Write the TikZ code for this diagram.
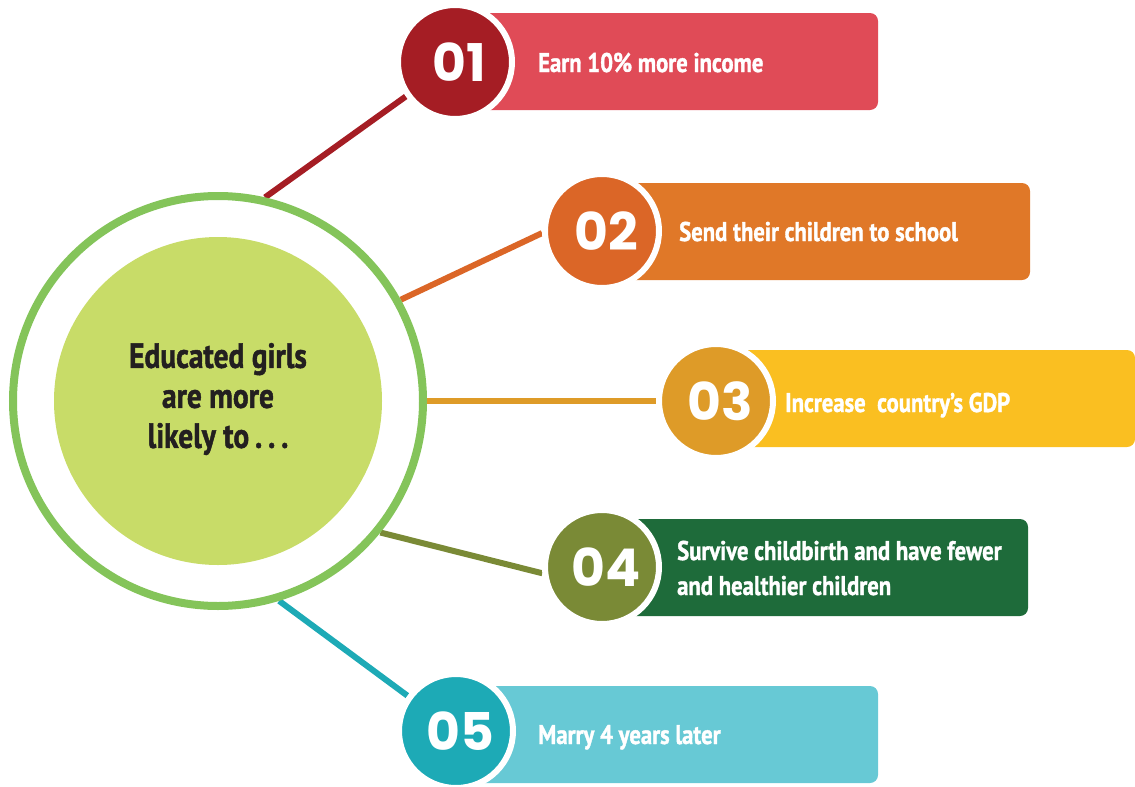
\documentclass[tikz,border=0pt]{standalone}
\usepackage{fontspec}
\setmainfont{PT Sans}[FakeStretch=0.84,BoldFont={PT Sans Bold},BoldFeatures={FakeBold=1.3}]
\newfontfamily\numfont{Poppins}
\pgfdeclarelayer{bg}
\pgfsetlayers{bg,main}
\definecolor{cOneD}{HTML}{A51D24}\definecolor{cOneL}{HTML}{E04B57}
\definecolor{cTwoD}{HTML}{DB6627}\definecolor{cTwoL}{HTML}{E07828}
\definecolor{cThrD}{HTML}{DE9B28}\definecolor{cThrL}{HTML}{FABF21}
\definecolor{cFouD}{HTML}{7A8A36}\definecolor{cFouL}{HTML}{1E6B3A}
\definecolor{cFivD}{HTML}{1DAAB6}\definecolor{cFivL}{HTML}{67C9D5}
\definecolor{ringgreen}{HTML}{84C45A}
\definecolor{coregreen}{HTML}{C8DC68}
\definecolor{darktext}{HTML}{231F20}
\tikzset{
  numcirc/.style={circle, minimum size=114pt, inner sep=0pt, draw=white, line width=6pt,
    fill=#1, text=white, font=\numfont\bfseries\fontsize{52}{52}\selectfont},
  bar/.style={rectangle, rounded corners=8pt, fill=#1, minimum height=97pt, inner sep=0pt},
  conn/.style={line width=6pt, draw=#1},
  bartext/.style={text=white, font=\bfseries\fontsize{27}{35}\selectfont, anchor=base west,
    inner sep=0pt, align=left},
}
\begin{document}
\begin{tikzpicture}[x=1pt,y=-1pt]
\useasboundingbox (0,0) rectangle (1135,787);
% centre
\node[circle, minimum size=410pt, inner sep=0pt, draw=ringgreen, line width=8pt, fill=white] (ring) at (218,401) {};
\node[circle, minimum size=328pt, inner sep=0pt, fill=coregreen] (core) at (218,401) {};
\node[text=darktext, font=\bfseries\fontsize{35}{40}\selectfont, align=center] (q) at (218,399)
  {Educated girls\\are more\\likely to\,.\,.\,.};
% bars
\node[bar=cOneL, minimum width=423pt] (r1) at (666.5,61.5) {};
\node[bar=cTwoL, minimum width=428pt] (r2) at (816,231.5) {};
\node[bar=cThrL, minimum width=419pt] (r3) at (925.5,398.5) {};
\node[bar=cFouL, minimum width=426pt] (r4) at (815,567.5) {};
\node[bar=cFivL, minimum width=422pt] (r5) at (667,734.5) {};
% number circles
\node[numcirc=cOneD] (c1) at (455,62) {\hspace*{8pt}01};
\node[numcirc=cTwoD] (c2) at (602,231) {\hspace*{8pt}02};
\node[numcirc=cThrD] (c3) at (716,401) {\hspace*{8pt}03};
\node[numcirc=cFouD] (c4) at (602,567) {\hspace*{8pt}04};
\node[numcirc=cFivD] (c5) at (456,731) {\hspace*{8pt}05};
% texts
\node[bartext] (t1) at (538,72) {Earn 10\% more income};
\node[bartext] (t2) at (679,241) {Send their children to school};
\node[bartext] (t3) at (785,412) {Increase\ \ country’s GDP};
\node[bartext] (t4) at (677,595) {Survive childbirth and have fewer\\and healthier children};
\node[bartext] (t5) at (538,744) {Marry 4 years later};
% connectors
\begin{pgfonlayer}{bg}
\draw[conn=cOneD] (ring.77) -- (c1.215);
\draw[conn=cTwoD] (ring.29.5) -- (c2.182);
\draw[conn=cThrD] (ring.0) -- (c3.180);
\draw[conn=cFouD] (ring.-39) -- (c4.186);
\draw[conn=cFivD] (ring.-73) -- (c5.144);
\end{pgfonlayer}
\end{tikzpicture}
\end{document}
